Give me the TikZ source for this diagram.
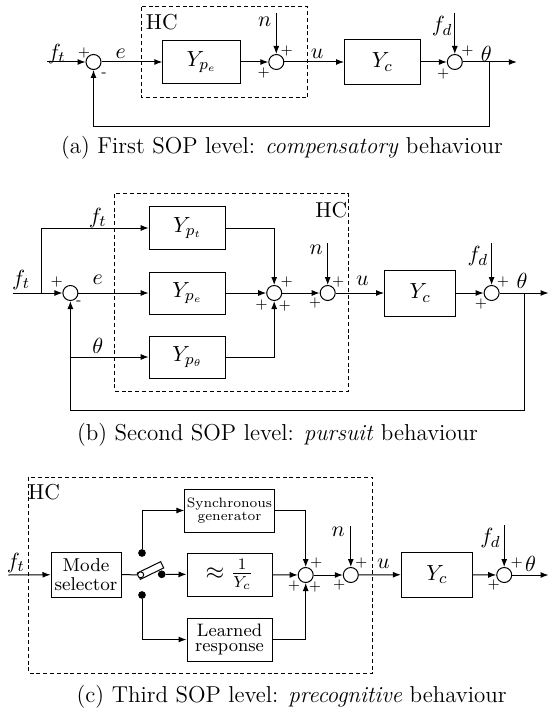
\documentclass[tikz,border=0pt]{standalone}
\usepackage{tikz}
\usetikzlibrary{math}
\usetikzlibrary{arrows.meta}

\tikzset{
  block/.style={draw, rectangle, minimum width=38.5pt, minimum height=21.5pt, inner sep=1pt},
  sumnode/.style={draw, circle, fill=white, minimum size=7.5pt, inner sep=0pt},
  sgn/.style={font=\fontsize{7}{8}\selectfont, inner sep=0pt},
  lbl/.style={inner sep=0pt},
  dot/.style={draw, fill, circle, minimum size=3.3pt, inner sep=0pt},
  sig/.style={-{Latex[length=4pt,width=3pt]}},
  hcbox/.style={dash pattern=on 2pt off 1.4pt},
  capt/.style={font=\fontsize{11.5}{13.5}\selectfont},
}

\begin{document}
\begin{tikzpicture}[x=0.5pt, y=-0.5pt, line width=0.5pt, font=\fontsize{10.8}{13}\selectfont]
\useasboundingbox (0,0) rectangle (549,711);

\tikzmath{
\ya = 62;
\yb = 293;
\yc = 575;
}

%(a) compensatory
\draw[hcbox] (141.8,7) rectangle (307.8,98);
\node[lbl] (hcA) at (161.8,22) {HC};

\coordinate (inA) at (47.3,\ya);
\node[sumnode] (s1A) at (93.5,\ya) {};
\node[block, minimum width=38.9pt] (ypeA) at (201.7,\ya) {$Y_{p_e}$};
\node[sumnode] (s2A) at (276.3,\ya) {};
\node[block, minimum width=37.8pt, minimum height=22.5pt] (ycA) at (382.3,\ya) {$Y_c$};
\node[sumnode] (s3A) at (454.8,\ya) {};
\coordinate (nA) at (276.3,13);
\coordinate (fdA) at (454.8,13);
\coordinate (fbA) at (489.5,\ya);
\coordinate (outA) at (516.8,\ya);

\draw[sig] (inA) -- (s1A);
\draw[sig] (s1A) -- (ypeA);
\draw[sig] (ypeA) -- (s2A);
\draw[sig] (nA) -- (s2A);
\draw[sig] (s2A) -- (ycA);
\draw[sig] (ycA) -- (s3A);
\draw[sig] (fdA) -- (s3A);
\draw[sig] (s3A) -- (outA);
\draw[sig] (fbA) -- ++(0,65) -| (s1A);

\node[lbl] (ftA) at (56.7,54) {$f_t$};
\node[lbl] (eA) at (120.8,54) {$e$};
\node[lbl] (nlA) at (264.7,22) {$n$};
\node[lbl] (uA) at (317.2,54) {$u$};
\node[lbl] (fdlA) at (442.2,26) {$f_d$};
\node[lbl] (thA) at (486.3,54) {$\theta$};

\node[sgn] (p1A) at (84,53) {+};
\node[sgn] (m1A) at (104,75) {-};
\node[sgn] (p2A) at (286.8,51) {+};
\node[sgn] (p3A) at (263.7,73) {+};
\node[sgn] (p4A) at (467.4,51) {+};
\node[sgn] (p5A) at (443.3,74) {+};

\node[capt] (capA) at (282,148) {(a) First SOP level: \textit{compensatory} behaviour};

%(b) pursuit
\draw[hcbox] (114.5,194) rectangle (348.7,391);
\node[lbl, anchor=east] (hcB) at (347.7,210) {HC};

\coordinate (inB) at (12.6,\yb);
\coordinate (brB) at (41,\yb);
\node[sumnode] (s1B) at (70.4,\yb) {};
\node[block, minimum width=38.3pt, minimum height=21pt] (yptB) at (187.5,228) {$Y_{p_t}$};
\node[block, minimum width=38.3pt, minimum height=21pt] (ypeB) at (187.5,\yb) {$Y_{p_e}$};
\node[block, minimum width=38.3pt, minimum height=21pt] (ypthB) at (187.5,357) {$Y_{p_\theta}$};
\node[sumnode] (s2B) at (274.2,\yb) {};
\node[sumnode] (s3B) at (327.7,\yb) {};
\node[block, minimum width=35.7pt, minimum height=23pt] (ycB) at (420.2,\yb) {$Y_c$};
\node[sumnode] (s4B) at (491.6,\yb) {};
\coordinate (nB) at (327.7,243);
\coordinate (fdB) at (491.6,243);
\coordinate (fbB) at (524.1,\yb);
\coordinate (outB) at (548.5,\yb);
\coordinate (thB) at (70.4,357);

\draw[sig] (inB) -- (s1B);
\draw[sig] (brB) |- (yptB);
\draw[sig] (s1B) -- (ypeB);
\draw[sig] (thB) -- (ypthB);
\draw[sig] (yptB) -| (s2B);
\draw[sig] (ypeB) -- (s2B);
\draw[sig] (ypthB) -| (s2B);
\draw[sig] (s2B) -- (s3B);
\draw[sig] (nB) -- (s3B);
\draw[sig] (s3B) -- (ycB);
\draw[sig] (ycB) -- (s4B);
\draw[sig] (fdB) -- (s4B);
\draw[sig] (s4B) -- (outB);
\draw[sig] (fbB) -- ++(0,117) -| (s1B);

\node[lbl] (ft1B) at (21,280) {$f_t$};
\node[lbl] (ft2B) at (97.7,218) {$f_t$};
\node[lbl] (eB) at (97.7,280) {$e$};
\node[lbl] (th1B) at (97.7,346) {$\theta$};
\node[lbl] (nlB) at (316.2,250) {$n$};
\node[lbl] (uB) at (362.4,281) {$u$};
\node[lbl] (fdlB) at (477.9,256) {$f_d$};
\node[lbl] (th2B) at (522,281) {$\theta$};

\node[sgn] (p1B) at (56.7,282) {+};
\node[sgn] (m1B) at (78.8,303) {-};
\node[sgn] (p2B) at (286.8,282) {+};
\node[sgn] (p3B) at (261.5,305) {+};
\node[sgn] (p4B) at (284.7,306) {+};
\node[sgn] (p5B) at (338.2,282) {+};
\node[sgn] (p6B) at (315.1,303) {+};
\node[sgn] (p7B) at (503.1,282) {+};
\node[sgn] (p8B) at (481.1,304) {+};

\node[capt] (capB) at (277.5,435) {(b) Second SOP level: \textit{pursuit} behaviour};

%(c) precognitive
\draw[hcbox] (28.4,477) rectangle (372.9,673);
\node[lbl] (hcC) at (44.1,492) {HC};

\coordinate (inC) at (8.4,\yc);
\node[block, minimum width=35pt, minimum height=22.5pt, align=center, font=\fontsize{9.3}{9.2}\selectfont] (modeC) at (86,574.5) {Mode\\selector};
\node[draw, fill=white, minimum width=13pt, minimum height=3.5pt, inner sep=0pt, rotate=26] (barC) at (150.5,570.5) {};
\node[draw, circle, fill=white, minimum size=3pt, inner sep=0pt] (pivC) at (140.7,574.8) {};
\node[dot] (swoC) at (161.7,574.3) {};
\node[dot] (swtC) at (142,553) {};
\node[dot] (swbC) at (142,595) {};
\node[block, minimum width=42.5pt, align=center, font=\fontsize{6.8}{6.8}\selectfont] (syncC) at (229.5,510.5) {Synchronous\\generator};
\node[block, minimum width=42.5pt, font=\fontsize{11.5}{13}\selectfont] (apprC) at (229.5,574.5) {$\approx\frac{1}{Y_c}$};
\node[block, minimum width=42.5pt, align=center, font=\fontsize{9}{7.5}\selectfont] (learnC) at (229.5,639.5) {Learned\\response};
\node[sumnode] (s1C) at (305.7,\yc) {};
\node[sumnode] (s2C) at (350.8,\yc) {};
\node[block, minimum width=35.7pt, minimum height=22.5pt] (ycC) at (437,574.5) {$Y_c$};
\node[sumnode] (s3C) at (504.2,\yc) {};
\coordinate (nC) at (350.8,526);
\coordinate (fdC) at (504.2,525);
\coordinate (outC) at (548.5,\yc);

\draw[sig] (inC) -- (modeC);
\draw (modeC) -- (pivC);
\draw[sig] (swoC) -- (apprC);
\draw[sig] (swtC) |- (syncC);
\draw[sig] (swbC) |- (learnC);
\draw[sig] (syncC) -| (s1C);
\draw[sig] (apprC) -- (s1C);
\draw[sig] (learnC) -| (s1C);
\draw[sig] (s1C) -- (s2C);
\draw[sig] (nC) -- (s2C);
\draw[sig] (s2C) -- (ycC);
\draw[sig] (ycC) -- (s3C);
\draw[sig] (fdC) -- (s3C);
\draw[sig] (s3C) -- (outC);

\node[lbl] (ftC) at (15.8,563) {$f_t$};
\node[lbl] (nlC) at (338.2,532) {$n$};
\node[lbl] (uC) at (383.4,564) {$u$};
\node[lbl] (fdlC) at (490.5,538) {$f_d$};
\node[lbl] (thC) at (530.5,564) {$\theta$};

\node[sgn] (p1C) at (316.2,563) {+};
\node[sgn] (p2C) at (294.1,586) {+};
\node[sgn] (p3C) at (315.1,587) {+};
\node[sgn] (p4C) at (361.3,563) {+};
\node[sgn] (p5C) at (339.3,585) {+};
\node[sgn] (p6C) at (516.8,563) {+};
\node[sgn] (p7C) at (493.7,585) {+};

\node[capt] (capC) at (291.7,697) {(c) Third SOP level: \textit{precognitive} behaviour};

\end{tikzpicture}
\end{document}
